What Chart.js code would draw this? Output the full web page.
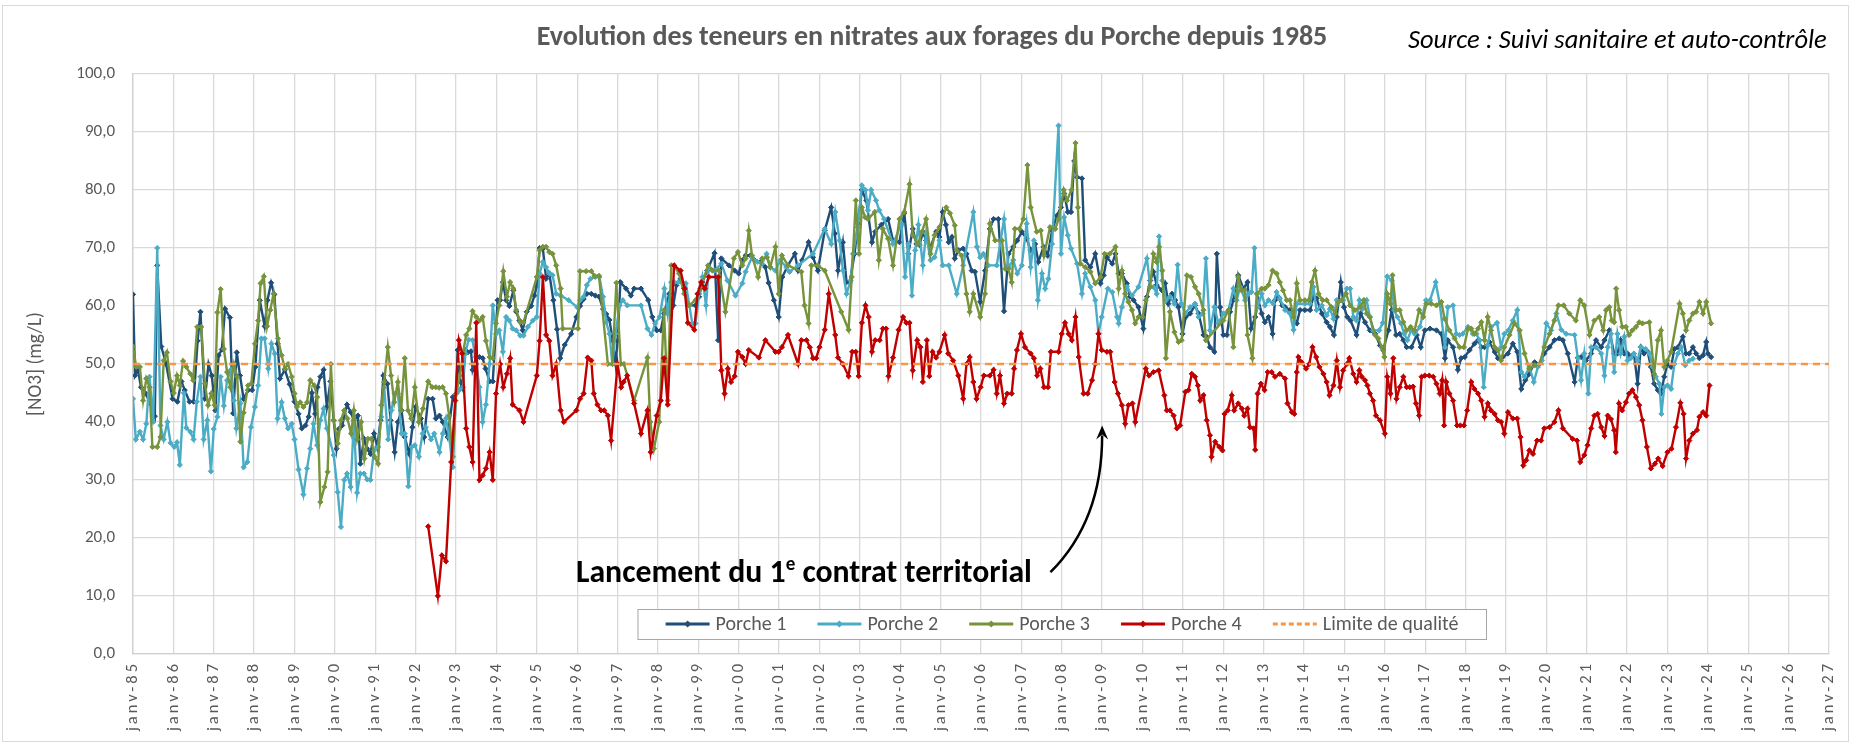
<!DOCTYPE html>
<html><head><meta charset="utf-8">
<script src="https://cdn.jsdelivr.net/npm/chart.js@4.4.1/dist/chart.umd.min.js"></script>
<style>html,body{margin:0;padding:0;background:#fff}#wrap{width:1851px;height:744px;position:relative}</style>
</head><body><div id="wrap"><canvas id="c" width="1851" height="744"></canvas></div>
<script>
const titleText = 'Evolution des teneurs en nitrates aux forages du Porche depuis 1985';
const sourceText = 'Source : Suivi sanitaire et auto-contrôle';
const yAxisTitle = '[NO3] (mg/L)';
const seriesNames = ['Porche 1','Porche 2','Porche 3','Porche 4','Limite de qualité'];
const xTickLabels = ['janv-85','janv-86','janv-87','janv-88','janv-89','janv-90','janv-91','janv-92','janv-93','janv-94','janv-95','janv-96','janv-97','janv-98','janv-99','janv-00','janv-01','janv-02','janv-03','janv-04','janv-05','janv-06','janv-07','janv-08','janv-09','janv-10','janv-11','janv-12','janv-13','janv-14','janv-15','janv-16','janv-17','janv-18','janv-19','janv-20','janv-21','janv-22','janv-23','janv-24','janv-25','janv-26','janv-27'];
const firstYear = 1985, lastYear = 2027;
const qualityLimit = 50;
const annotationText = ['Lancement du 1', 'e', ' contrat territorial'];
// annotation anchors in data space [year, value]
const annotationTextAt = [1995.97, 12.4];
const arrowFrom = [2007.72, 14.1], arrowCtrl = [2009.0, 23.0], arrowTo = [2009.0, 39.4];

const porche1 = [[1985.00,62],[1985.05,48],[1985.12,49],[1985.20,46],[1985.30,45],[1985.45,43],[1985.54,41],[1985.60,67],[1985.70,53],[1985.82,50],[1985.98,44],[1986.10,43.5],[1986.20,47],[1986.28,45.5],[1986.40,43.5],[1986.50,43.5],[1986.60,54],[1986.67,59],[1986.78,44],[1986.87,50],[1986.95,48],[1987.04,42],[1987.12,51.5],[1987.20,52.5],[1987.28,59.5],[1987.40,58],[1987.48,41.5],[1987.57,52],[1987.65,48],[1987.74,44],[1987.85,45.5],[1987.95,45.5],[1988.03,49.5],[1988.14,61],[1988.26,56.5],[1988.33,61],[1988.42,64],[1988.50,62],[1988.58,53.5],[1988.64,47.5],[1988.76,49],[1988.88,46.5],[1989.00,43.5],
[1989.10,41.4],[1989.18,38.9],[1989.27,39.4],[1989.35,40.9],[1989.43,45],[1989.51,41.4],[1989.57,46],[1989.64,47.8],[1989.72,49],[1989.80,42.6],[1989.89,47],[1989.97,40.3],[1990.04,35.4],[1990.10,38.8],[1990.18,39.4],[1990.30,43],[1990.39,41.7],[1990.47,40.3],[1990.57,41.1],[1990.63,32.8],[1990.72,37.1],[1990.80,35.4],[1990.88,34.5],[1990.97,38],[1991.05,35.7],[1991.13,40.3],[1991.20,48],[1991.30,46.6],[1991.38,40.3],[1991.48,34.8],[1991.56,40],[1991.65,42],[1991.73,37.4],[1991.84,34.5],[1991.92,39.1],[1992.00,42.6],[1992.13,40.6],[1992.21,37.4],[1992.31,44],[1992.42,44],[1992.50,40.6],[1992.59,41.1],[1992.67,40],[1992.79,37.4],[1992.92,44.3],[1993.00,44.9],
[1993.04,52.4],[1993.10,47],[1993.15,46],[1993.23,52.4],[1993.29,52],[1993.37,52.2],[1993.41,49],[1993.50,51.2],[1993.58,51.2],[1993.66,51],[1993.73,49.2],[1993.83,47],[1993.91,47],[1994.03,61],[1994.09,61],[1994.16,64.1],[1994.24,61],[1994.32,60],[1994.42,62.7],[1994.49,59],[1994.57,57.5],[1994.65,55.8],[1994.75,59],[1994.86,60],[1994.94,61.8],[1995.00,63.5],[1995.07,70],[1995.15,69.9],[1995.23,64.7],[1995.31,65.6],[1995.41,61],[1995.50,56],[1995.58,51],[1995.69,53.3],[1995.85,55.2],[1995.98,58.1],[1996.07,60],[1996.16,61.2],[1996.24,62.1],[1996.35,62.1],[1996.45,61.8],[1996.54,61.6],[1996.64,59.5],[1996.72,58.6],[1996.80,57.6],[1996.88,54],[1996.95,50],[1997.00,54],
[1997.07,64.1],[1997.21,63],[1997.33,61.8],[1997.41,63],[1997.58,63],[1997.76,61],[1997.86,58.1],[1997.97,55.8],[1998.07,55.8],[1998.15,58.7],[1998.28,62.1],[1998.38,60.1],[1998.46,63.6],[1998.56,64.7],[1998.66,63],[1998.77,60.1],[1998.93,60.1],[1999.02,61.6],[1999.10,64.1],[1999.22,66.1],[1999.40,69.1],[1999.49,54.1],[1999.57,68.2],[1999.76,67],[1999.90,66.1],[2000.00,65.6],[2000.09,67.9],[2000.17,68.7],[2000.29,68.7],[2000.39,67.9],[2000.54,67.6],[2000.66,66.7],[2000.74,64],[2000.87,61],[2000.99,58.1],
[2001.08,65],[2001.22,67],[2001.39,69],[2001.47,66.1],[2001.57,67.9],[2001.73,71],[2001.84,68.4],[2001.96,66.1],[2002.13,73],[2002.29,77],[2002.38,72.5],[2002.46,66.1],[2002.58,71],[2002.67,64.1],[2002.75,64.1],[2002.87,69],[2002.95,74.2],[2003.05,80],[2003.16,78.2],[2003.30,71],[2003.38,72.8],[2003.53,74],[2003.70,75],[2003.82,71.3],[2003.98,71],[2004.10,76],[2004.20,69],[2004.31,73.3],[2004.40,70.7],[2004.48,70.5],[2004.56,72.8],[2004.64,71.3],[2004.75,70.2],[2004.89,72.8],[2004.97,71.9],[2005.05,76.2],[2005.13,74],[2005.20,71],
[2005.28,71.9],[2005.35,68.2],[2005.44,69.6],[2005.56,69.9],[2005.64,69],[2005.77,66.1],[2005.85,65.9],[2005.98,60.7],[2006.10,66.1],[2006.22,73.3],[2006.31,75],[2006.43,75],[2006.57,59.1],[2006.68,69],[2006.80,70.2],[2006.90,71.3],[2007.01,72.8],[2007.13,71.6],[2007.23,69.6],[2007.34,70.7],[2007.42,67.6],[2007.55,70.2],[2007.65,68.7],[2007.76,73],[2007.88,75.6],[2007.98,77],[2008.06,79.4],[2008.15,76.2],[2008.23,76.2],[2008.31,85],[2008.38,82.2],[2008.50,82],[2008.58,67.9],[2008.71,66.7],[2008.83,69],[2008.96,63.9],[2009.04,65.3],[2009.12,68.4],[2009.25,67.3],[2009.33,69],
[2009.41,65.6],[2009.49,65.6],[2009.61,63.9],[2009.69,61.6],[2009.78,61],[2009.90,59.8],[2010.02,56.1],[2010.11,61.6],[2010.19,64.4],[2010.27,65.9],[2010.35,63.6],[2010.48,62.7],[2010.56,63.9],[2010.64,60.4],[2010.73,62.1],[2010.81,61],[2010.89,59.8],[2010.99,55.2],[2011.07,58.1],[2011.18,58.7],[2011.30,60.1],[2011.39,58.7],[2011.51,55],[2011.59,54.7],[2011.67,52.9],[2011.78,52.1],[2011.84,69],[2011.92,59.8],[2012.00,55],[2012.09,55],[2012.17,59],[2012.25,61],[2012.37,65.3],[2012.50,63],[2012.60,64.1],[2012.69,56.1],[2012.79,58.1],[2012.87,61],[2012.95,58.7],[2013.03,57.2],[2013.12,58.1],[2013.22,55.2],[2013.28,61],[2013.36,61.6],[2013.46,60.1],
[2013.53,59.8],[2013.65,59.3],[2013.74,58.1],[2013.82,57],[2013.90,59.3],[2014.02,59.3],[2014.15,59.3],[2014.23,61.6],[2014.31,61.3],[2014.44,58.7],[2014.56,57.2],[2014.64,56.4],[2014.74,55],[2014.81,58.1],[2014.91,64.1],[2014.99,59.8],[2015.07,58.1],[2015.15,57.5],[2015.30,55],[2015.40,58.7],[2015.51,57.2],[2015.63,55.8],[2015.76,55.2],[2015.88,53.2],[2015.96,52.4],[2016.09,55.8],[2016.17,59.3],[2016.28,55],[2016.37,55.2],[2016.46,54.1],[2016.54,52.9],[2016.66,52.9],[2016.79,55],[2016.89,52.9],[2016.99,55.8],[2017.12,56.1],[2017.28,55.8],[2017.40,55.2],[2017.49,51],
[2017.56,54.1],[2017.69,52.9],[2017.81,49],[2017.89,51],[2017.98,51.2],[2018.10,52.4],[2018.22,53.5],[2018.31,54.1],[2018.39,52.9],[2018.47,52.9],[2018.59,53.8],[2018.72,52.1],[2018.80,51],[2018.92,51.2],[2019.05,51.8],[2019.17,53.5],[2019.28,52.1],[2019.38,45.7],[2019.48,47.2],[2019.58,48.3],[2019.71,50.3],[2019.83,50],[2019.95,51.8],[2020.08,52.9],[2020.20,54.1],[2020.32,54.4],[2020.41,54.1],[2020.53,51.8],[2020.70,46.9],[2020.78,51.1],[2020.86,51.2],[2020.98,50.6],[2021.11,51.8],[2021.23,54.1],[2021.36,52.9],[2021.44,54.1],[2021.56,55.8],
[2021.68,51.8],[2021.76,51.8],[2021.84,54.1],[2021.93,51.8],[2022.01,51.8],[2022.09,51.2],[2022.17,51.8],[2022.26,46.6],[2022.34,52.9],[2022.42,51.8],[2022.51,52.1],[2022.59,49.5],[2022.67,46.6],[2022.76,45.5],[2022.84,44.9],[2022.92,47.8],[2023.00,50],[2023.09,49.5],[2023.17,52.6],[2023.26,52.9],[2023.38,54.7],[2023.46,51.8],[2023.54,51.8],[2023.63,52.9],[2023.71,51.8],[2023.79,51],[2023.88,51.5],[2023.96,53.8],[2024.00,51.8],[2024.08,51.2]];

const porche2 = [[1985.00,44],[1985.07,37],[1985.17,38.3],[1985.25,37],[1985.33,39.7],[1985.41,47.8],[1985.50,40],[1985.60,70],[1985.68,39.4],[1985.76,37],[1985.85,40],[1985.93,36.4],[1986.02,35.7],[1986.09,36.5],[1986.16,32.6],[1986.26,45],[1986.32,39],[1986.42,38.3],[1986.50,37],[1986.58,43.5],[1986.67,47.8],[1986.75,37],[1986.84,40.3],[1986.93,31.5],[1987.00,38.8],[1987.09,40.9],[1987.17,47.8],[1987.25,42.8],[1987.33,47.2],[1987.42,49],[1987.50,43.7],[1987.56,38.9],[1987.66,43.2],[1987.74,32.2],[1987.83,33.1],[1987.92,39.1],[1988.02,42.6],[1988.10,46.3],[1988.18,54.4],[1988.26,54.4],[1988.35,49.2],[1988.43,53.5],[1988.51,51.8],[1988.58,40.6],[1988.68,43.4],[1988.76,40.6],[1988.84,38.9],[1988.93,39.7],[1989.00,37],
[1989.10,31.8],[1989.22,27.5],[1989.31,32],[1989.39,35.4],[1989.47,39.7],[1989.56,36],[1989.64,40.3],[1989.72,42.3],[1989.80,38.9],[1989.97,34.3],[1990.07,27.9],[1990.15,21.9],[1990.23,30],[1990.30,31.1],[1990.39,28.8],[1990.47,40.3],[1990.55,27.8],[1990.63,31.1],[1990.72,31.1],[1990.80,30.1],[1990.88,30],[1990.97,35.1],[1991.07,35.7],[1991.15,40.9],[1991.22,46],[1991.32,37],[1991.40,42],[1991.48,44.9],[1991.56,44.9],[1991.65,38],[1991.73,38],[1991.82,28.9],[1991.90,35.7],[1991.98,36],[1992.08,34],[1992.17,38],[1992.25,39.1],[1992.38,37],[1992.46,38],[1992.59,34.8],[1992.67,38],[1992.75,40.6],[1992.83,37.4],[1992.92,32.2],[1993.00,44.9],
[1993.08,45.5],[1993.17,46],[1993.23,51.8],[1993.31,54.2],[1993.41,54.1],[1993.50,50],[1993.58,46],[1993.66,40],[1993.74,43],[1993.83,50],[1993.91,60.1],[1993.99,55.2],[1994.07,55.8],[1994.16,52.1],[1994.24,58.1],[1994.32,57.5],[1994.40,56.1],[1994.49,55.8],[1994.59,54.9],[1994.67,54.9],[1994.78,56.4],[1994.90,57.5],[1995.00,58.1],[1995.07,65.6],[1995.15,67.6],[1995.23,66.7],[1995.31,65.6],[1995.39,65.3],[1995.48,62.1],[1995.59,61.8],[1995.79,61],[1996.00,59.8],[1996.07,61],[1996.16,61.6],[1996.24,63.6],[1996.33,64.7],[1996.45,65],[1996.55,65],[1996.64,61.6],[1996.72,57.2],[1996.80,55.2],[1996.87,50],[1996.95,55.2],[1997.05,60.1],[1997.13,61],
[1997.24,60.1],[1997.58,60.1],[1997.74,56.1],[1997.84,55],[1997.93,57],[1998.04,58.1],[1998.16,63],[1998.24,58.7],[1998.33,64.1],[1998.40,64.1],[1998.50,64.1],[1998.60,64.1],[1998.69,63.9],[1998.85,57],[1998.93,57],[1999.02,62.1],[1999.10,65],[1999.19,60.1],[1999.26,66.7],[1999.40,66.1],[1999.57,67.3],[1999.72,64.4],[1999.92,61.8],[2000.09,63.9],[2000.17,65.9],[2000.33,68.4],[2000.46,67.6],[2000.58,67.3],[2000.69,69],[2000.78,66.7],[2000.91,66.1],[2001.03,67.9],
[2001.18,66.7],[2001.26,65.9],[2001.47,67],[2001.84,69],[2002.13,73.3],[2002.29,70.7],[2002.39,76.2],[2002.50,71.3],[2002.58,66.1],[2002.67,62.1],[2002.77,64.4],[2002.83,69],[2002.95,73.6],[2003.05,80.8],[2003.14,80],[2003.20,76.5],[2003.28,80],[2003.40,78.2],[2003.48,76.5],[2003.60,75],[2003.82,70.7],[2004.03,74.2],[2004.12,65],[2004.20,70.7],[2004.29,61.8],[2004.37,69.6],[2004.45,74],[2004.56,67],[2004.64,72.5],[2004.75,67.9],[2004.85,68.4],[2004.97,71.3],[2005.05,67],[2005.20,67],
[2005.40,62.1],[2005.56,67],[2005.81,76.2],[2005.90,70.2],[2005.98,68.4],[2006.06,69],[2006.18,67],[2006.39,67],[2006.57,75],[2006.68,66.7],[2006.80,67.9],[2006.90,65.6],[2007.01,67],[2007.13,74.2],[2007.23,66.7],[2007.31,71.3],[2007.41,61],[2007.51,65.6],[2007.59,63],[2007.67,64.7],[2007.76,70.7],[2007.92,91.1],[2007.98,69],[2008.06,75.3],[2008.15,72.2],[2008.23,69.9],[2008.38,67.3],[2008.50,62.1],[2008.58,65.6],[2008.71,63.3],[2008.83,61],[2008.91,55.2],[2008.99,58.1],[2009.14,63],[2009.25,62.4],[2009.37,58.1],
[2009.41,57],[2009.49,59.8],[2009.61,63.3],[2009.74,61.8],[2009.90,63.3],[2010.11,68.2],[2010.19,63.3],[2010.27,63.3],[2010.35,62.1],[2010.41,72],[2010.49,64.4],[2010.58,61],[2010.68,61.6],[2010.79,60.4],[2010.87,67.1],[2010.96,60.4],[2011.06,58.7],[2011.18,59.8],[2011.30,60.4],[2011.39,58.1],[2011.49,58.7],[2011.57,68.2],[2011.67,55.8],[2011.78,59.8],[2011.88,57],[2012.00,58.7],[2012.13,59.3],[2012.25,63],[2012.33,61],[2012.42,63.3],[2012.54,61],[2012.62,62.1],[2012.70,62.4],[2012.77,70],[2012.85,59.8],[2012.95,62.1],[2013.03,60.1],[2013.12,61],[2013.24,60.4],[2013.32,62.4],[2013.40,61.3],
[2013.53,59.3],[2013.65,58.7],[2013.74,55.9],[2013.82,60.4],[2014.02,60.4],[2014.15,60.4],[2014.23,63.3],[2014.31,59.3],[2014.44,60.1],[2014.56,58.4],[2014.64,59.5],[2014.73,57.8],[2014.81,61],[2014.97,61],[2015.06,63],[2015.14,63],[2015.22,58.1],[2015.30,57.5],[2015.37,61],[2015.45,59.5],[2015.55,61],[2015.63,58.1],[2015.71,55.8],[2015.86,55.8],[2015.95,57.1],[2016.06,65.1],[2016.17,64.4],[2016.23,59.3],[2016.31,58.1],[2016.40,57],[2016.48,55.2],[2016.56,54.1],[2016.65,55.8],[2016.74,55.2],[2016.87,56.4],[2017.02,61],[2017.12,61],[2017.26,64.1],[2017.36,60.4],[2017.49,52.9],
[2017.56,59.8],[2017.69,60.1],[2017.77,55.2],[2017.85,55],[2017.93,55.2],[2018.06,56.4],[2018.18,55.2],[2018.27,55.2],[2018.35,54.1],[2018.45,46],[2018.55,53.2],[2018.63,56.4],[2018.78,57.1],[2018.88,52.9],[2018.96,55.2],[2019.06,55.8],[2019.17,57.5],[2019.28,59.3],[2019.38,48.6],[2019.46,47.8],[2019.58,49.5],[2019.69,46.9],[2019.79,49.5],[2019.89,50.6],[2020.00,57],[2020.12,55.8],[2020.25,58.7],[2020.37,55.9],[2020.49,55.2],[2020.70,55],[2020.78,51],[2020.86,47.2],[2020.94,51.8],[2021.04,44.9],[2021.11,52.9],[2021.23,52.9],[2021.36,51.8],[2021.44,48],[2021.52,52.9],[2021.60,55.2],
[2021.68,48.6],[2021.76,55.2],[2021.84,51.8],[2021.93,54.7],[2022.01,50.6],[2022.09,51],[2022.17,51.8],[2022.26,50.6],[2022.34,52.9],[2022.46,52.6],[2022.55,51.8],[2022.63,49.5],[2022.71,47.8],[2022.80,46.6],[2022.85,41.4],[2022.92,46],[2023.00,46.3],[2023.09,45.7],[2023.17,50],[2023.26,51.8],[2023.34,52.9],[2023.44,49.8],[2023.54,50.6],[2023.63,50.9]];

const porche3 = [[1985.00,53],[1985.08,49.5],[1985.17,49.5],[1985.25,43.7],[1985.33,47.5],[1985.41,46],[1985.48,35.7],[1985.60,35.7],[1985.68,37.4],[1985.76,50.6],[1985.84,52],[1985.93,47],[1986.01,45],[1986.09,48],[1986.16,46.3],[1986.24,50.5],[1986.32,49.5],[1986.42,48.3],[1986.49,47.2],[1986.59,56.4],[1986.69,56.4],[1986.78,46.6],[1986.86,42.9],[1986.94,44.9],[1987.02,42.9],[1987.09,58.9],[1987.17,62.9],[1987.25,52.6],[1987.33,48.6],[1987.41,46],[1987.50,50],[1987.58,47.8],[1987.66,36.6],[1987.74,41.6],[1987.85,46.3],[1987.93,46.6],[1988.02,53.5],[1988.10,57.5],[1988.16,63.9],[1988.24,65.1],[1988.32,56.5],[1988.40,59.3],[1988.48,62.1],[1988.59,54.4],[1988.68,51.5],[1988.76,49.2],[1988.84,50],[1988.93,47.8],[1989.00,44.9],
[1989.06,42.6],[1989.14,43.4],[1989.22,42.6],[1989.31,43.4],[1989.39,47.2],[1989.49,46.3],[1989.56,44.3],[1989.64,26.2],[1989.74,28.8],[1989.82,31.4],[1989.90,50],[1989.97,40.3],[1990.07,36.3],[1990.15,40.3],[1990.23,42],[1990.31,40.6],[1990.40,38],[1990.47,42],[1990.55,37],[1990.65,40],[1990.73,33.7],[1990.82,37.1],[1990.90,37.1],[1990.98,34],[1991.07,32.8],[1991.15,42.9],[1991.22,46.9],[1991.31,52.9],[1991.39,48],[1991.47,43.4],[1991.56,46.9],[1991.64,42],[1991.73,51],[1991.81,42],[1991.89,40.6],[1991.98,46],[1992.08,40],[1992.18,42.3],[1992.31,47],[1992.41,46],[1992.50,46],[1992.58,45.9],[1992.67,46],[1992.75,44.9],[1992.83,41.1],[1992.92,34],[1993.00,44.9],
[1993.10,48],[1993.17,51.8],[1993.25,55],[1993.33,56.1],[1993.41,59.1],[1993.50,58.1],[1993.58,57.5],[1993.66,58.1],[1993.74,54],[1993.83,51.2],[1993.91,51],[1993.99,57],[1994.07,60.1],[1994.17,66],[1994.26,61.6],[1994.34,64.1],[1994.42,63],[1994.49,59.3],[1994.59,57.2],[1994.67,57.2],[1995.00,65],[1995.07,69.6],[1995.15,70.2],[1995.23,70.2],[1995.31,69.3],[1995.39,69],[1995.48,67],[1995.59,63],[1995.64,56.1],[1996.02,56.1],[1996.07,66],[1996.22,66],[1996.35,66],[1996.43,65.2],[1996.54,65.2],[1996.76,50],[1996.87,50],[1996.97,64],
[1997.08,50],[1997.16,50],[1997.41,43.7],[1997.74,51.1],[1997.81,40],[1997.90,35.4],[1998.03,40],[1998.15,59.3],[1998.24,43.7],[1998.33,67],[1998.40,67],[1998.52,65.6],[1998.65,62.1],[1998.77,60.1],[1998.93,61],[1999.05,63],[1999.24,67],[1999.35,66.1],[1999.51,66.1],[1999.67,59],[1999.88,68.2],[1999.98,69.3],[2000.09,67],[2000.17,68.2],[2000.25,73],[2000.33,68.7],[2000.48,65],[2000.58,68.2],[2000.70,68.4],[2000.78,66.7],[2000.91,70.2],[2000.99,62.1],[2001.07,68.7],
[2001.22,67],[2001.55,65.9],[2001.63,60.1],[2001.73,57],[2001.80,67],[2001.96,67],[2002.13,66.1],[2002.54,59],[2002.72,55.9],[2002.80,65],[2002.90,78.2],[2002.98,69],[2003.05,77],[2003.13,75.3],[2003.20,75],[2003.37,76.2],[2003.47,67.9],[2003.57,73.3],[2003.70,71.6],[2003.82,67],[2003.98,75],[2004.10,76.2],[2004.23,81],[2004.31,72.2],[2004.44,70.7],[2004.54,72.8],[2004.64,75],[2004.75,69],[2004.85,72.2],[2004.97,73.6],[2005.14,77],
[2005.23,76],[2005.35,73.9],[2005.40,69.6],[2005.52,68.7],[2005.64,62.1],[2005.72,59],[2005.81,62.1],[2005.98,58.1],[2006.10,62.1],[2006.22,74.2],[2006.35,71.3],[2006.52,71.3],[2006.60,66.4],[2006.68,66.4],[2006.76,64.1],[2006.84,73.3],[2006.95,73.3],[2007.05,75],[2007.15,84.3],[2007.23,77],[2007.38,72.8],[2007.48,73],[2007.56,68.7],[2007.71,73.6],[2007.84,73.3],[2007.92,75],[2008.05,80],[2008.13,78.2],[2008.24,80],[2008.34,88.1],[2008.40,77],[2008.46,67.3],[2008.58,66.7],[2008.71,65.9],[2008.83,63.9],[2008.96,65],[2009.06,69],[2009.19,69],[2009.33,70.2],
[2009.41,63],[2009.49,66.1],[2009.57,62.1],[2009.65,60.7],[2009.74,59.3],[2009.82,57],[2009.90,58.1],[2010.00,58.1],[2010.08,61],[2010.19,63.3],[2010.27,69],[2010.35,67.6],[2010.41,70.2],[2010.49,66.1],[2010.58,51],[2010.68,59],[2010.79,55.5],[2010.89,53.8],[2010.97,54.1],[2011.10,65.3],[2011.20,65],[2011.30,63.3],[2011.39,62.1],[2011.51,59.3],[2011.57,54.1],[2012.00,57.5],[2012.13,59.3],[2012.25,52.9],[2012.37,65],[2012.45,62.7],[2012.53,62.7],[2012.60,55],[2012.72,51],[2012.83,62.1],[2012.95,63],[2013.03,63],[2013.12,63.6],[2013.22,66.1],[2013.32,65.6],[2013.40,64.1],
[2013.48,62.7],[2013.57,61],[2013.65,61],[2013.74,58.1],[2013.82,63.9],[2013.90,61],[2014.02,61],[2014.12,61],[2014.19,64.1],[2014.27,66.1],[2014.36,62.1],[2014.46,61],[2014.56,61],[2014.68,59.8],[2014.77,58.7],[2014.85,60.7],[2014.93,61],[2015.04,62.1],[2015.14,60.1],[2015.26,59.3],[2015.39,59.8],[2015.48,61],[2015.55,58.7],[2015.63,58.1],[2015.76,55],[2015.84,54.4],[2015.92,52.9],[2015.99,51.2],[2016.06,62.1],[2016.14,60.4],[2016.19,65.3],[2016.28,59.3],[2016.37,59.3],[2016.46,57.2],[2016.54,55.8],[2016.64,56.4],[2016.74,55.8],[2016.85,59.3],[2016.95,58.1],[2017.03,60.4],[2017.15,60.4],[2017.28,60.1],[2017.40,60.7],
[2017.48,57.8],[2017.60,55.8],[2017.73,54.4],[2017.85,52.9],[2017.96,52.9],[2018.06,56.1],[2018.14,56.1],[2018.22,55.2],[2018.31,56.1],[2018.39,57.2],[2018.47,54.1],[2018.55,58.1],[2018.63,55.8],[2018.72,52.9],[2018.80,52.4],[2018.88,50.6],[2018.96,52.9],[2019.09,55],[2019.21,57],[2019.34,55.8],[2019.46,51.8],[2019.58,49.2],[2019.71,49.8],[2019.83,50],[2019.95,52.9],[2020.08,55.2],[2020.20,57.5],[2020.30,60.1],[2020.43,60.1],[2020.57,58.7],[2020.73,57.5],[2020.84,61],[2020.94,60.1],[2021.07,55],[2021.19,57.5],[2021.31,58.1],[2021.41,55.8],[2021.48,59.3],[2021.56,59.8],
[2021.62,57.5],[2021.68,57.2],[2021.73,63],[2021.80,59.3],[2021.88,56.4],[2021.97,56.4],[2022.05,55],[2022.13,55.8],[2022.22,56.4],[2022.30,57.2],[2022.38,57],[2022.55,57.2],[2022.67,48.3],[2022.76,54.1],[2022.84,55.8],[2022.92,49.5],[2023.00,50.6],[2023.09,52.1],[2023.30,60.4],[2023.38,58.7],[2023.46,55.8],[2023.54,57.5],[2023.63,58.7],[2023.71,59],[2023.79,60.7],[2023.88,58.7],[2023.96,60.7],[2024.08,57]];

const porche4 = [[1992.31,22],[1992.55,10],[1992.65,17],[1992.75,16],[1992.88,33.1],[1992.98,43.7],[1993.07,54.1],[1993.15,51.8],[1993.25,38.9],[1993.33,35.7],[1993.41,33.1],[1993.50,57.1],[1993.58,30],[1993.66,30.8],[1993.74,32],[1993.83,34.8],[1993.91,30],[1993.99,44.9],[1994.09,50],[1994.17,46],[1994.26,48.3],[1994.34,51],[1994.40,43],[1994.57,42],[1994.67,40],[1995.00,48],[1995.07,54],[1995.15,65],[1995.23,55],[1995.31,54],[1995.39,48],[1995.48,50],[1995.59,42],[1995.67,40],[1995.98,42],[1996.07,44],[1996.16,44.9],[1996.26,51.1],[1996.35,50.6],[1996.41,44.9],[1996.50,43],[1996.59,42],[1996.67,42],[1996.76,41.1],[1996.84,36.8],[1997.00,50],[1997.09,46],[1997.15,46.9],[1997.24,48],[1997.41,43.2],[1997.58,38],[1997.74,42],[1997.82,34.8],[1997.97,41.1],[1998.07,43.7],[1998.15,51],[1998.24,43],[1998.40,67],[1998.56,66.1],[1998.66,63],[1998.74,57.1],[1998.90,55.9],[1998.98,62.1],[1999.07,64.1],[1999.16,63],[1999.26,65],[1999.49,65],[1999.57,48.9],[1999.65,44.9],[1999.73,49.2],[1999.81,46.9],[1999.90,47.9],[1999.98,52.1],[2000.09,51.2],[2000.17,50],[2000.25,52.4],[2000.50,51.1],[2000.66,54.1],[2000.91,52.1],[2000.99,52.1],[2001.07,52.9],
[2001.22,55],[2001.47,50],[2001.55,54.1],[2001.68,54.1],[2001.76,52.9],[2001.84,51],[2001.92,51],[2002.00,52.9],[2002.13,55.9],[2002.23,62.1],[2002.39,55],[2002.46,51.1],[2002.58,50],[2002.72,47.9],[2002.81,52.1],[2002.90,52.1],[2002.97,47.9],[2003.05,57.1],[2003.14,60.1],[2003.22,58.1],[2003.30,52.1],[2003.38,54.1],[2003.49,54.1],[2003.57,56.1],[2003.65,56.1],[2003.71,47.9],[2003.82,51.1],[2003.96,55.9],[2004.07,58.1],[2004.15,57.1],[2004.23,57.1],[2004.31,48.9],[2004.42,54.1],[2004.50,52.9],[2004.56,46.9],[2004.66,54.1],[2004.72,47.9],[2004.80,52.1],[2004.89,51.1],[2004.97,52.1],[2005.10,55],
[2005.19,51.8],[2005.31,50.6],[2005.44,48],[2005.56,44],[2005.64,50],[2005.72,51.2],[2005.81,46.9],[2005.89,44],[2005.99,46],[2006.07,48],[2006.22,48],[2006.31,49],[2006.39,44.9],[2006.47,48],[2006.57,43.2],[2006.65,44.9],[2006.76,44.9],[2006.82,49.2],[2006.89,52.4],[2006.99,55.2],[2007.09,52.9],[2007.23,51.8],[2007.31,51],[2007.39,48],[2007.47,49.2],[2007.56,46],[2007.66,46],[2007.73,52.1],[2007.92,52.1],[2008.00,55.2],[2008.08,57.1],[2008.17,55.2],[2008.25,54.1],[2008.34,58.1],[2008.42,51.2],[2008.54,44.9],[2008.64,44.9],[2008.75,47.2],[2008.83,50],[2008.91,55.2],[2008.99,52.4],[2009.12,52.1],[2009.20,52.1],[2009.31,46.9],[2009.39,44.9],
[2009.49,42.9],[2009.57,39.7],[2009.65,42.9],[2009.75,43.2],[2009.82,40],[2010.08,49.2],[2010.16,48],[2010.27,48.6],[2010.40,48.9],[2010.54,44.6],[2010.60,42],[2010.68,42],[2010.77,41.1],[2010.85,38.9],[2010.93,39.4],[2011.06,45.2],[2011.14,45.5],[2011.22,48.3],[2011.30,47.8],[2011.37,46.3],[2011.43,43.7],[2011.51,44.6],[2011.59,40.3],[2011.67,37.7],[2011.71,34],[2011.80,36.6],[2011.90,35.7],[2011.98,35.1],[2012.03,41.4],[2012.11,42],[2012.21,44.6],[2012.27,42],[2012.37,43.2],[2012.46,42.3],[2012.52,41.1],[2012.60,42.3],[2012.66,39.1],[2012.75,38.9],[2012.79,35.2],[2012.85,44.9],[2012.93,46.6],[2013.02,45.5],[2013.10,48.6],[2013.20,48.6],[2013.28,47.8],[2013.40,48.3],
[2013.53,47.5],[2013.59,43.2],[2013.70,41.7],[2013.76,41.4],[2013.82,48.6],[2013.86,51.2],[2013.94,50.3],[2014.05,49.2],[2014.13,50],[2014.21,52.9],[2014.30,51.2],[2014.38,49.5],[2014.48,48.3],[2014.56,46.9],[2014.63,44.6],[2014.73,46.3],[2014.81,50.6],[2014.89,46],[2014.97,48.9],[2015.06,50],[2015.12,51],[2015.22,48.3],[2015.30,46.9],[2015.37,48.9],[2015.43,47.8],[2015.51,47.2],[2015.57,46.3],[2015.63,44.9],[2015.71,43.7],[2015.78,41.1],[2015.88,40.3],[2016.00,38],[2016.06,47.8],[2016.14,44.9],[2016.21,51],[2016.29,44],[2016.37,46],[2016.46,47.8],[2016.54,46],[2016.62,46],[2016.70,46.1],[2016.77,43.2],[2016.85,41.1],[2016.91,47.8],[2016.99,48],[2017.10,48],[2017.20,47.8],[2017.28,46.6],[2017.36,44.9],[2017.42,47.2],[2017.47,39.4],
[2017.52,46.9],[2017.60,44.9],[2017.69,43.7],[2017.79,39.4],[2017.87,39.4],[2017.96,39.4],[2018.04,42],[2018.14,46.9],[2018.22,45.7],[2018.31,44.9],[2018.39,43.7],[2018.47,40.9],[2018.55,43.2],[2018.63,42],[2018.72,41.4],[2018.80,40.3],[2018.88,40],[2018.96,38],[2019.05,41.7],[2019.17,40.6],[2019.28,40.6],[2019.36,37.4],[2019.43,32.5],[2019.50,33.4],[2019.58,35.1],[2019.67,34.5],[2019.77,36.8],[2019.87,36.8],[2019.95,38.9],[2020.08,39.1],[2020.20,40],[2020.30,42],[2020.41,38.9],[2020.65,37.1],[2020.76,36.8],[2020.84,33.1],[2020.94,34.3],[2021.02,36],[2021.11,38.9],[2021.19,41.1],[2021.27,41.4],[2021.36,39.1],[2021.44,37.6],[2021.52,41.1],[2021.60,40.5],
[2021.68,38.6],[2021.72,34.8],[2021.80,43.2],[2021.88,42],[2021.97,43.4],[2022.05,44.9],[2022.13,45.5],[2022.22,44.3],[2022.30,42.9],[2022.38,40.3],[2022.49,35.7],[2022.59,32],[2022.69,32.8],[2022.77,33.7],[2022.88,32.4],[2023.00,34.8],[2023.10,35.4],[2023.21,39.1],[2023.32,43.3],[2023.40,41.4],[2023.46,33.7],[2023.54,36.8],[2023.63,38],[2023.73,38.6],[2023.79,40.9],[2023.88,41.7],[2023.96,41.1],[2024.04,46.3]];

const colors = ['#1F4E79','#4BACC6','#77933C','#C00000','#F79646'];
const FONT = 'Carlito, Lato, "Liberation Sans", sans-serif';
const GREY = '#595959';

function toXY(arr){ return arr.map(p => ({x:p[0], y:p[1]})); }
function lineSet(label, arr, color, order){
  return {label, data:toXY(arr), borderColor:color, backgroundColor:color, borderWidth:2.4,
    pointStyle:'rectRot', pointRadius:2.6, pointBorderWidth:1, pointBackgroundColor:color, pointBorderColor:color,
    tension:0, order};
}

const datasets = [
  lineSet(seriesNames[0], porche1, colors[0], 5),
  lineSet(seriesNames[1], porche2, colors[1], 4),
  lineSet(seriesNames[2], porche3, colors[2], 3),
  lineSet(seriesNames[3], porche4, colors[3], 2),
  {label:seriesNames[4], data:[{x:firstYear,y:qualityLimit},{x:lastYear,y:qualityLimit}], borderColor:colors[4],
   borderWidth:2.6, borderDash:[7,5], pointRadius:0, order:1}
];

function fitSize(ctx, text, style, target){
  ctx.font = style + ' 100px ' + FONT;
  return 100 * target / ctx.measureText(text).width;
}

const decor = {
  id:'decor',
  beforeDraw(chart){
    const c = chart.ctx;
    c.save(); c.fillStyle = '#fff'; c.fillRect(0,0,chart.width,chart.height);
    c.strokeStyle = '#d9d9d9'; c.lineWidth = 1; c.strokeRect(2.5,5.5,chart.width-5,chart.height-8);
    c.restore();
  },
  afterDraw(chart){
    const c = chart.ctx, xs = chart.scales.x, ys = chart.scales.y, a = chart.chartArea;
    c.save();
    // title
    let s = fitSize(c, titleText, 'bold', 791);
    c.font = 'bold ' + s + 'px ' + FONT; c.fillStyle = GREY; c.textAlign='center'; c.textBaseline='middle';
    c.fillText(titleText, 932, 38);
    // source
    s = fitSize(c, sourceText, 'italic', 419);
    c.font = 'italic ' + s + 'px ' + FONT; c.fillStyle = '#000'; c.textAlign='left';
    c.fillText(sourceText, 1408, 41);
    // y axis title
    c.save(); c.translate(36, (a.top + a.bottom)/2); c.rotate(-Math.PI/2);
    s = fitSize(c, yAxisTitle, '', 104);
    c.font = s + 'px ' + FONT; c.fillStyle = GREY; c.textAlign='center'; c.textBaseline='middle';
    c.fillText(yAxisTitle, 0, 0); c.restore();
    // x tick labels
    c.font = '16.5px ' + FONT; c.fillStyle = GREY;
    if ('letterSpacing' in c) c.letterSpacing = '3px';
    xTickLabels.forEach((lab, i) => {
      const px = xs.getPixelForValue(firstYear + i);
      c.save(); c.translate(px, a.bottom + 7); c.rotate(-Math.PI/2);
      c.textAlign='right'; c.textBaseline='middle'; c.fillText(lab, 0, 0); c.restore();
    });
    if ('letterSpacing' in c) c.letterSpacing = '0px';
    // legend
    const lx0 = 637.5, lx1 = 1486, ly0 = 609, ly1 = 639, ly = (ly0+ly1)/2;
    c.fillStyle = '#fff'; c.fillRect(lx0, ly0, lx1-lx0, ly1-ly0);
    c.strokeStyle = '#a6a6a6'; c.lineWidth = 1; c.strokeRect(lx0+0.5, ly0+0.5, lx1-lx0, ly1-ly0);
    c.font = '20px ' + FONT; c.textAlign='left'; c.textBaseline='middle';
    seriesNames.forEach((name, i) => {
      const x0 = 665.6 + i*151.8;
      c.strokeStyle = colors[i]; c.lineWidth = 3;
      c.setLineDash(i === 4 ? [5,3] : []);
      c.beginPath(); c.moveTo(x0, ly); c.lineTo(x0+44, ly); c.stroke(); c.setLineDash([]);
      if (i < 4){
        c.fillStyle = colors[i]; c.beginPath();
        const mx = x0+22; c.moveTo(mx, ly-3.5); c.lineTo(mx+3.5, ly); c.lineTo(mx, ly+3.5); c.lineTo(mx-3.5, ly); c.closePath(); c.fill();
      }
      c.fillStyle = GREY; c.fillText(name, x0+50, ly+1);
    });
    // annotation text
    const tx = xs.getPixelForValue(annotationTextAt[0]), ty = ys.getPixelForValue(annotationTextAt[1]);
    c.font = 'bold 100px ' + FONT;
    const wA = c.measureText(annotationText[0]).width, wC = c.measureText(annotationText[2]).width;
    c.font = 'bold 60px ' + FONT;
    const wB = c.measureText(annotationText[1]).width;
    const fs = 100 * 456 / (wA + wB + wC);
    c.fillStyle = '#000'; c.textBaseline = 'alphabetic'; c.textAlign='left';
    c.font = 'bold ' + fs + 'px ' + FONT; c.fillText(annotationText[0], tx, ty);
    let cx = tx + wA*fs/100;
    c.font = 'bold ' + (fs*0.6) + 'px ' + FONT; c.fillText(annotationText[1], cx, ty - fs*0.38);
    cx += wB*fs/100;
    c.font = 'bold ' + fs + 'px ' + FONT; c.fillText(annotationText[2], cx, ty);
    // arrow
    const p0 = [xs.getPixelForValue(arrowFrom[0]), ys.getPixelForValue(arrowFrom[1])];
    const p1 = [xs.getPixelForValue(arrowCtrl[0]), ys.getPixelForValue(arrowCtrl[1])];
    const p2 = [xs.getPixelForValue(arrowTo[0]), ys.getPixelForValue(arrowTo[1])];
    c.strokeStyle = '#000'; c.lineWidth = 2.5;
    c.beginPath(); c.moveTo(p0[0], p0[1]); c.quadraticCurveTo(p1[0], p1[1], p2[0], p2[1]+10); c.stroke();
    const ang = Math.atan2(p2[1]-p1[1], p2[0]-p1[0]);
    c.fillStyle = '#000'; c.beginPath();
    c.moveTo(p2[0], p2[1]);
    c.lineTo(p2[0] - 14*Math.cos(ang) + 6*Math.sin(ang), p2[1] - 14*Math.sin(ang) - 6*Math.cos(ang));
    c.lineTo(p2[0] - 9*Math.cos(ang), p2[1] - 9*Math.sin(ang));
    c.lineTo(p2[0] - 14*Math.cos(ang) - 6*Math.sin(ang), p2[1] - 14*Math.sin(ang) + 6*Math.cos(ang));
    c.closePath(); c.fill();
    c.restore();
  }
};

new Chart(document.getElementById('c'), {
  type:'line',
  data:{datasets},
  options:{
    responsive:false, animation:false, devicePixelRatio:1,
    layout:{padding:{left:0, right:22, top:74, bottom:0}},
    plugins:{legend:{display:false}, tooltip:{enabled:false}, title:{display:false}},
    scales:{
      x:{type:'linear', min:firstYear, max:lastYear,
         ticks:{display:false, stepSize:1, autoSkip:false},
         grid:{color:'#d9d9d9', lineWidth:1.3, drawTicks:false},
         border:{color:'#d0d0d0', width:1.3},
         afterFit(s){ s.height = 90; }},
      y:{min:0, max:100,
         ticks:{stepSize:10, padding:18, color:GREY, font:{family:FONT, size:17},
                callback:v => v.toFixed(1).replace('.', ',')},
         grid:{color:'#d9d9d9', lineWidth:1.3, drawTicks:false},
         border:{color:'#d0d0d0', width:1.3},
         afterFit(s){ s.width = 133; }}
    }
  },
  plugins:[decor]
});
</script>
</body></html>
